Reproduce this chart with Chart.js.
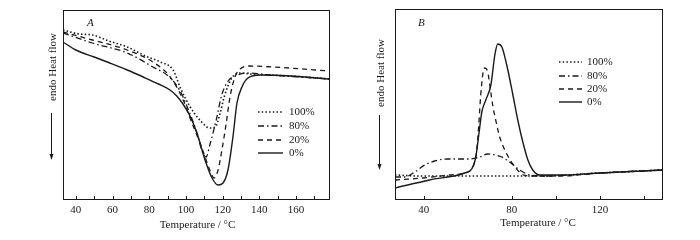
<!DOCTYPE html>
<html><head><meta charset="utf-8">
<script src="https://cdn.jsdelivr.net/npm/chart.js@4"></script>
<style>
html,body{margin:0;padding:0;background:#fff;}
#wrap{position:relative;width:700px;height:240px;}
.c{position:absolute;top:0;width:350px;height:240px;}
</style></head><body>
<div id="wrap">
<div class="c" style="left:0"><canvas id="cA" width="350" height="240"></canvas></div>
<div class="c" style="left:350px"><canvas id="cB" width="350" height="240"></canvas></div>
</div>
<script>
// ---------- data ----------
const seriesLabels = ['100%', '80%', '20%', '0%'];
const xTicksA = [40, 60, 80, 100, 120, 140, 160];
const xTicksB = [40, 80, 120];

// Panel A (heating), temperature (°C) and heat flow (a.u.)
const tA100 = [33, 42, 49, 58, 68, 78, 86, 93, 97, 102, 108, 113, 116, 118.5, 121, 125, 129.5, 135, 157, 178.5];
const fA100 = [170, 166, 165, 159, 153, 144, 138, 130, 112, 94, 79, 72, 73, 86, 104, 122, 127, 126, 124, 121];
const tA80 = [33, 49, 68, 82, 91, 96.5, 100.5, 106, 109, 111, 113, 116.5, 119.5, 123, 127, 133, 146, 178.5];
const fA80 = [167, 157, 147, 133, 123, 110, 94, 67, 48, 43, 55, 80, 105, 119, 124, 127, 125, 121];
const tA20 = [33, 49, 68, 82, 91, 98.5, 102, 108.5, 113, 115.3, 117.5, 119.6, 121.8, 124, 126.7, 129.5, 135, 147.5, 178.5];
const fA20 = [168, 160, 150, 138, 124, 100, 83, 53, 30, 22, 30, 50, 75, 103, 123, 131, 134, 133, 129];
const tA0 = [33, 40, 50, 58.5, 68, 76.7, 85, 91.3, 95, 98.4, 102.2, 106, 110.4, 114.2, 117.5, 120.2, 122.9, 125.6, 127.8, 130.5, 133.8, 140.4, 156.7, 178.5];
const fA0 = [158, 150, 143, 137, 130, 123, 116, 110, 104, 96, 84, 67, 40, 22, 15, 17, 30, 63, 97, 113, 122, 125, 124, 121];

// Panel B (cooling)
const tB100 = [27, 38, 56, 74.5, 92.7, 120, 148.6];
const fB100 = [25, 24, 24, 24, 24, 27, 30];
const tB80 = [27, 31.4, 36, 40.5, 45, 50.5, 61, 65.5, 69, 72.3, 75.5, 79, 83.6, 88.2, 95, 120, 148.6];
const fB80 = [23, 23, 28, 35, 39, 41, 41, 43, 46, 45, 43, 38, 30, 25, 24, 27, 30];
const tB20 = [27, 39.5, 51.8, 60, 62.7, 64.1, 65, 65.9, 66.8, 67.7, 69.1, 70, 71.4, 73.2, 74.5, 78.2, 81.8, 84.5, 88.2, 101.8, 120, 148.6];
const fB20 = [20, 22, 25, 28, 35, 50, 75, 105, 125, 132, 128, 115, 94, 75, 63, 44, 32, 26, 24, 24, 27, 30];
const tB0 = [27, 42.7, 58.6, 61.8, 63.6, 65, 66.4, 68.2, 70.5, 72.3, 73.6, 75.5, 77.7, 80.5, 82.7, 85, 87.3, 89.5, 92.7, 101.8, 120, 148.6];
const fB0 = [12, 20, 27, 31, 42, 65, 88, 100, 115, 145, 156, 153, 135, 105, 80, 58, 40, 30, 25, 25, 27, 30];

// ---------- styles ----------
const FONT = '"Liberation Serif", "Times New Roman", serif';
const INK = '#1a1a1a';
const lineStyles = [
  { dash: [1.5, 2.2], w: 1.6 },
  { dash: [6, 3, 1.5, 3], w: 1.3 },
  { dash: [5, 4], w: 1.3 },
  { dash: [], w: 1.4 }
];

function pts(t, f) { return t.map((x, i) => ({ x: x, y: f[i] })); }
function makeSets(pairs) {
  return pairs.map((p, i) => ({
    label: seriesLabels[i],
    data: pts(p[0], p[1]),
    borderColor: INK,
    borderWidth: lineStyles[i].w,
    borderDash: lineStyles[i].dash,
    pointRadius: 0,
    fill: false,
    tension: 0.4,
    cubicInterpolationMode: 'monotone'
  }));
}

function framePlugin(cfg) {
  return {
    id: 'frame' + cfg.letter,
    afterDatasetsDraw(chart) {
      const ctx = chart.ctx, a = chart.chartArea, x = chart.scales.x;
      ctx.save();
      ctx.strokeStyle = INK; ctx.fillStyle = INK; ctx.lineWidth = 1;
      ctx.strokeRect(Math.round(a.left) + 0.5, Math.round(a.top) + 0.5,
        Math.round(a.right - a.left) - 1, Math.round(a.bottom - a.top) - 1);
      // inward tick marks
      for (let v = Math.ceil(x.min / cfg.minor) * cfg.minor; v <= x.max; v += cfg.minor) {
        const px = Math.round(x.getPixelForValue(v)) + 0.5;
        ctx.beginPath(); ctx.moveTo(px, a.bottom); ctx.lineTo(px, a.bottom - 4); ctx.stroke();
      }
      // panel letter
      ctx.font = 'italic 11px ' + FONT; ctx.textAlign = 'left'; ctx.textBaseline = 'middle';
      ctx.fillText(cfg.letter, cfg.letterX, cfg.letterY);
      // x title
      ctx.font = '11px ' + FONT; ctx.textAlign = 'center';
      ctx.fillText('Temperature / °C', (a.left + a.right) / 2 + cfg.xtOff, cfg.xtY);
      // y title
      ctx.save(); ctx.translate(cfg.ytX, cfg.ytY); ctx.rotate(-Math.PI / 2);
      ctx.fillText('endo Heat flow', 0, 0); ctx.restore();
      // arrow
      const ax = cfg.ytX - 1.5;
      ctx.beginPath(); ctx.moveTo(ax, cfg.arr[0]); ctx.lineTo(ax, cfg.arr[1] - 3); ctx.stroke();
      ctx.beginPath(); ctx.moveTo(ax - 2, cfg.arr[1] - 6); ctx.lineTo(ax, cfg.arr[1]); ctx.lineTo(ax + 2, cfg.arr[1] - 6); ctx.closePath(); ctx.fill();
      // legend
      chart.data.datasets.forEach((ds, i) => {
        const y = cfg.legY[i];
        ctx.setLineDash(ds.borderDash); ctx.lineWidth = ds.borderWidth;
        ctx.beginPath(); ctx.moveTo(cfg.legX[0], y); ctx.lineTo(cfg.legX[1], y); ctx.stroke();
        ctx.setLineDash([]);
        ctx.textAlign = 'left'; ctx.fillText(ds.label, cfg.legX[2], y);
      });
      ctx.restore();
    }
  };
}

function makeChart(id, sets, xmin, xmax, ymax, ticks, yW, padR, padT, cfg) {
  return new Chart(document.getElementById(id), {
    type: 'line',
    data: { datasets: sets },
    options: {
      responsive: false, animation: false,
      layout: { padding: { left: 0, right: padR, top: padT, bottom: 0 } },
      plugins: { legend: { display: false }, tooltip: { enabled: false } },
      scales: {
        x: {
          type: 'linear', min: xmin, max: xmax,
          afterBuildTicks: s => { s.ticks = ticks.map(v => ({ value: v })); },
          afterFit: s => { s.height = 40; },
          grid: { display: false, drawTicks: false, tickLength: 0 }, border: { display: false },
          ticks: { color: INK, font: { family: FONT, size: 11 }, padding: 4, maxRotation: 0 }
        },
        y: {
          min: 0, max: ymax,
          afterFit: s => { s.width = yW; },
          grid: { display: false }, border: { display: false },
          ticks: { display: false }
        }
      }
    },
    plugins: [framePlugin(cfg)]
  });
}

makeChart('cA', makeSets([[tA100, fA100], [tA80, fA80], [tA20, fA20], [tA0, fA0]]),
  33, 178.5, 190, xTicksA, 63, 20, 10,
  { letter: 'A', letterX: 87, letterY: 23, minor: 10, xtOff: 1, xtY: 225,
    ytX: 53, ytY: 67, arr: [113, 160], legX: [258, 283, 289], legY: [112, 126, 140, 153] });

makeChart('cB', makeSets([[tB100, fB100], [tB80, fB80], [tB20, fB20], [tB0, fB0]]),
  27, 148.6, 191, xTicksB, 45, 37, 9,
  { letter: 'B', letterX: 68, letterY: 23, minor: 20, xtOff: 9, xtY: 223,
    ytX: 31, ytY: 73, arr: [115, 170], legX: [209, 232, 237], legY: [62, 76, 89, 102] });
</script>
</body></html>
